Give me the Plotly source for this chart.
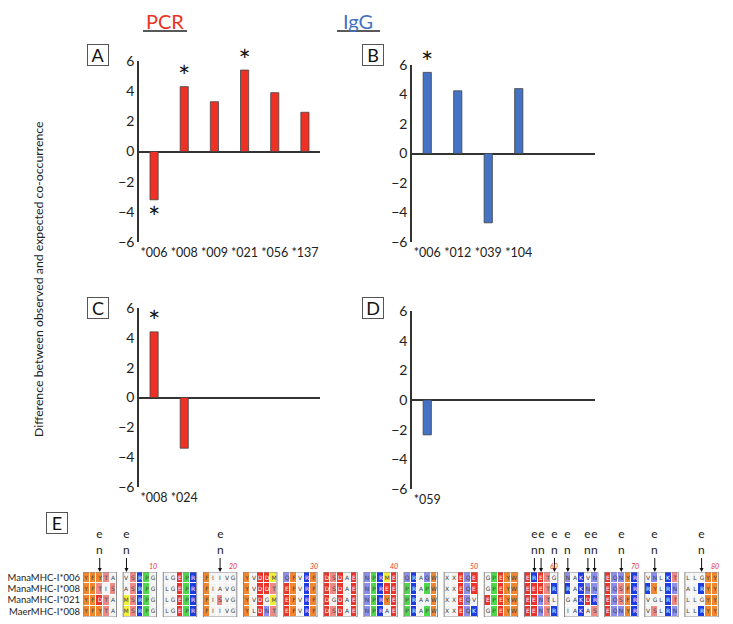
import plotly.graph_objects as go

# ---------------- data ----------------
pcr_a_cats = ["*006", "*008", "*009", "*021", "*056", "*137"]
pcr_a_vals = [-3.2, 4.3, 3.3, 5.4, 3.9, 2.6]
pcr_a_sig = [True, True, False, True, False, False]

igg_b_cats = ["*006", "*012", "*039", "*104"]
igg_b_vals = [5.5, 4.25, -4.7, 4.4]
igg_b_sig = [True, False, False, False]

pcr_c_cats = ["*008", "*024"]
pcr_c_vals = [4.4, -3.4]
pcr_c_sig = [True, False]

igg_d_cats = ["*059"]
igg_d_vals = [-2.35]
igg_d_sig = [False]

y_ticks = [-6, -4, -2, 0, 2, 4, 6]

seq_names = ["ManaMHC-I*006", "ManaMHC-I*008", "ManaMHC-I*021", "MaerMHC-I*008"]
seq_blocks = [
    "YFYTA VSRPG LGEPR FIIVG YVDDM QFVRF DSDAE NPRME QRAQW XXEQE GPEYW ERETG NAKVN EQNYR VNLKT LLGYY",
    "YFTIS ASRPG LGEPR FIAVG YVDDT EFVRF DSDAE NPREE PRAPW XXEQE GPEYW EEETR RAKNN EQSFR RYLRN ALRYY",
    "YFDTA MSRPG LGEPR FISVG YVDGM EFVRF DGDAE NPRYE PRAAW XXEQV EPEYW EENTL GAKDR EQSFR VGLRT LLGYY",
    "YFYTA MSRPG LGEPR FIIVG YLDNT EFVRF DSDAE NPRAE PRAPW XXEQK GPEYW EENTR IAKAS EQNYR VSLRN LLRYY",
]
marked_residues = [3, 6, 18, 57, 58, 60, 61, 64, 65, 68, 72, 78]
number_marks = [10, 20, 30, 40, 50, 60, 70, 80]

residue_groups = {
    "FYW": "#F0862F", "DE": "#E8342A", "ST": "#EE8A86", "RK": "#1E3CE0",
    "NQH": "#8C8EEA", "P": "#4FD84B", "MC": "#F2EE3A", "AGILVX": "#F4F4F4",
}

# ---------------- styling ----------------
RED = "#EE3124"
BLUE = "#4472C4"
FONT = "Lato"
PAGE_OFFSET = 8          # the page body has an 8px margin
W, H = 733 - PAGE_OFFSET, 624 - PAGE_OFFSET

def px_x(v):
    return (v - PAGE_OFFSET) / W

def px_y(v):
    return 1 - (v - PAGE_OFFSET) / H

fig = go.Figure()

panels = [
    (pcr_a_cats, pcr_a_vals, pcr_a_sig, RED, "", (139, 320), (61, 242)),
    (igg_b_cats, igg_b_vals, igg_b_sig, BLUE, "2", (412, 595), (65, 242)),
    (pcr_c_cats, pcr_c_vals, pcr_c_sig, RED, "3", (139, 320), (308, 487)),
    (igg_d_cats, igg_d_vals, igg_d_sig, BLUE, "4", (412, 595), (311, 489)),
]

layout_axes = {}
for cats, vals, sig, color, sfx, xd, yd in panels:
    fig.add_trace(go.Bar(
        x=cats, y=vals, marker=dict(color=color, line=dict(color="#444", width=0.8)),
        width=0.27, xaxis="x" + sfx, yaxis="y" + sfx, showlegend=False, hoverinfo="x+y",
    ))
    sx = [c for c, s in zip(cats, sig) if s]
    sy = [v + (0.45 if v > 0 else -1.4) for v, s in zip(vals, sig) if s]
    if sx:
        fig.add_trace(go.Scatter(
            x=sx, y=sy, mode="text", text=["*"] * len(sx),
            textfont=dict(size=29, color="#111", family=FONT),
            xaxis="x" + sfx, yaxis="y" + sfx, showlegend=False, hoverinfo="skip", cliponaxis=False,
        ))
    layout_axes["xaxis" + sfx] = dict(
        domain=[px_x(xd[0]), px_x(xd[1])], anchor="y" + sfx, type="category",
        categoryorder="array", categoryarray=cats, automargin=False, tickangle=0,
        range=[-0.5, 5.5], showline=False, showgrid=False, zeroline=False, ticks="",
        tickfont=dict(size=12.5, color="#222", family=FONT), ticklabelstandoff=1,
    )
    layout_axes["yaxis" + sfx] = dict(
        domain=[px_y(yd[1]), px_y(yd[0])], anchor="x" + sfx, range=[-6, 6], automargin=False,
        tickvals=y_ticks, showgrid=False, showline=True, linecolor="#333", linewidth=1.5,
        zeroline=True, zerolinecolor="#333", zerolinewidth=1.5, ticks="",
        tickfont=dict(size=14, color="#222", family=FONT),
    )

# ---------------- alignment heatmap ----------------
group_names = list(residue_groups.keys())
group_colors = list(residue_groups.values())

def group_of(ch):
    for i, g in enumerate(group_names):
        if ch in g:
            return i
    return len(group_names) - 1

n_groups = len(group_names)
colorscale = []
for k, c in enumerate(group_colors):
    lo = max(0.0, (k - 0.5) / (n_groups - 1))
    hi = min(1.0, (k + 0.5) / (n_groups - 1))
    colorscale.append([lo, c])
    colorscale.append([hi, c])

z_rows, t_rows = [], []
for s in seq_blocks:
    zr, tr = [], []
    for block in s.split(" "):
        for ch in block:
            zr.append(group_of(ch))
            tr.append(ch)
        zr.append(None)
        tr.append("")
    z_rows.append(zr)
    t_rows.append(tr)
n_cols = len(z_rows[0])
n_blocks = len(seq_blocks[0].split(" "))

fig.add_trace(go.Heatmap(
    z=z_rows, text=t_rows, texttemplate="%{text}", textfont=dict(size=6, family="DejaVu Sans"),
    x=list(range(n_cols)), y=list(range(len(seq_names))),
    colorscale=colorscale, zmin=0, zmax=n_groups - 1, showscale=False,
    xgap=1, ygap=1, xaxis="x5", yaxis="y5", hoverinfo="text",
))

def res_col(r):
    return (r - 1) // 5 * 6 + (r - 1) % 5

layout_axes["xaxis5"] = dict(domain=[px_x(83), px_x(725)], anchor="y5", range=[-0.5, n_cols - 0.5],
                             visible=False, automargin=False)
layout_axes["yaxis5"] = dict(domain=[px_y(617), px_y(572)], anchor="x5", range=[len(seq_names) - 0.5, -0.5],
                             tickvals=list(range(len(seq_names))), ticktext=seq_names, showgrid=False,
                             zeroline=False, showline=False, ticks="", automargin=False,
                             ticklabelstandoff=2,
                             tickfont=dict(size=9.5, color="#222", family=FONT))

shapes = []
for b in range(n_blocks):
    shapes.append(dict(type="rect", xref="x5", yref="y5", x0=b * 6 - 0.5, x1=b * 6 + 4.5,
                       y0=-0.5, y1=len(seq_names) - 0.5, line=dict(color="#888", width=1)))

# title underlines
shapes.append(dict(type="line", xref="paper", yref="paper", x0=px_x(143), x1=px_x(187),
                   y0=px_y(31), y1=px_y(31), line=dict(color="#222", width=1.5)))
shapes.append(dict(type="line", xref="paper", yref="paper", x0=px_x(337), x1=px_x(380),
                   y0=px_y(31), y1=px_y(31), line=dict(color="#222", width=1.5)))

annotations = [
    dict(text="PCR", x=px_x(165), y=px_y(21.5), xref="paper", yref="paper", showarrow=False,
         xanchor="center", yanchor="middle", borderpad=0,
         font=dict(size=20, color=RED, family=FONT)),
    dict(text="IgG", x=px_x(358), y=px_y(21.5), xref="paper", yref="paper", showarrow=False,
         xanchor="center", yanchor="middle", borderpad=0,
         font=dict(size=20, color=BLUE, family=FONT)),
    dict(text="Difference between observed and expected co-occurrence", x=px_x(38), y=px_y(279),
         xref="paper", yref="paper", showarrow=False, textangle=-90,
         xanchor="center", yanchor="middle",
         font=dict(size=12.3, color="#222", family=FONT)),
]
for letter, cx, cy in [("A", 97.5, 54.5), ("B", 372.5, 55), ("C", 97.5, 307.5),
                       ("D", 373, 308), ("E", 56.5, 523)]:
    annotations.append(dict(text=letter, x=px_x(cx), y=px_y(cy), xref="paper", yref="paper",
                            showarrow=False, xanchor="center", yanchor="middle",
                            font=dict(size=18, color="#111", family=FONT),
                            bordercolor="#555", borderwidth=1, borderpad=1, width=18, height=18,
                            bgcolor="white"))

for r in marked_residues:
    annotations.append(dict(text="e<br>n", x=res_col(r), y=-0.5, xref="x5", yref="y5",
                            showarrow=True, ax=0, ay=-31, arrowhead=2, arrowsize=0.8, arrowwidth=1,
                            arrowcolor="#111", font=dict(size=12, color="#222", family=FONT)))
for r in number_marks:
    annotations.append(dict(text="<i>%d</i>" % r, x=res_col(r), y=-0.5, xref="x5", yref="y5",
                            showarrow=False, xanchor="center", yanchor="bottom", yshift=0,
                            font=dict(size=7, color="#E8342A", family=FONT)))

fig.update_layout(
    width=W, height=H, margin=dict(l=0, r=0, t=0, b=0, autoexpand=False),
    paper_bgcolor="white", plot_bgcolor="rgba(0,0,0,0)",
    bargap=0.73, shapes=shapes, annotations=annotations, showlegend=False,
    font=dict(family=FONT, color="#222"),
    **layout_axes,
)

fig.write_html("out.html")
